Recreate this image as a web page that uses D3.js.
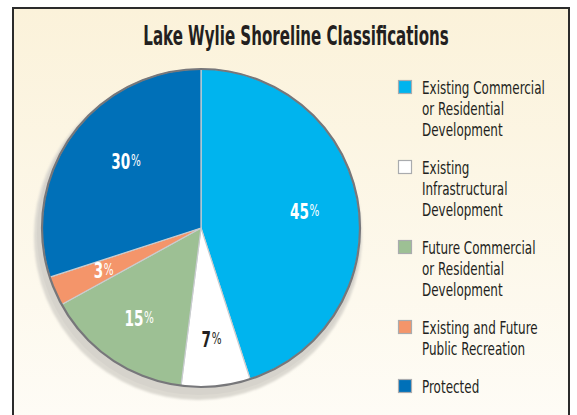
<!DOCTYPE html>
<html><head><meta charset="utf-8">
<script src="https://cdn.jsdelivr.net/npm/d3@7"></script>
<style>
html,body{margin:0;padding:0;background:#fff;}
svg{display:block;}
</style></head>
<body>
<svg id="chart" width="577" height="415"></svg>
<script>
// ---- data ----
const title = "Lake Wylie Shoreline Classifications";
const categories = [
  "Existing Commercial or Residential Development",
  "Existing Infrastructural Development",
  "Future Commercial or Residential Development",
  "Existing and Future Public Recreation",
  "Protected"
];
const legendLines = [
  ["Existing Commercial", "or Residential", "Development"],
  ["Existing", "Infrastructural", "Development"],
  ["Future Commercial", "or Residential", "Development"],
  ["Existing and Future", "Public Recreation"],
  ["Protected"]
];
const values = [45, 7, 15, 3, 30];
const colors = ["#00b4ee", "#ffffff", "#9dc094", "#f4956a", "#0070b8"];
const labelColors = ["#ffffff", "#231f20", "#ffffff", "#ffffff", "#ffffff"];

// ---- layout / style ----
const W = 577, H = 415;
const cx = 201, cy = 228, R = 159;
const font = "'Liberation Sans Narrow','DejaVu Sans Condensed','Arial Narrow',sans-serif";
const svg = d3.select("#chart");

const defs = svg.append("defs");
const bg = defs.append("linearGradient").attr("id","bg").attr("x1",0).attr("y1",0).attr("x2",0).attr("y2",1);
bg.append("stop").attr("offset","0%").attr("stop-color","#fbf2da");
bg.append("stop").attr("offset","100%").attr("stop-color","#fefcf6");
defs.append("filter").attr("id","blur").append("feGaussianBlur").attr("stdDeviation",1.2);

svg.append("rect").attr("x",0).attr("y",0).attr("width",W).attr("height",H).attr("fill","#fff");
svg.append("rect").attr("x",13).attr("y",8).attr("width",556).attr("height",H).attr("fill","url(#bg)")
  .attr("stroke","#2b2b2b").attr("stroke-width",2);

// title
svg.append("text").attr("transform",`translate(296,45) scale(0.645,1)`)
  .attr("text-anchor","middle").attr("font-family",font).attr("font-weight","bold")
  .attr("font-size",26).attr("fill","#231f20").text(title);

// pie
const pie = d3.pie().value(d => d).sort(null);
const arcs = pie(values);
const arc = d3.arc().innerRadius(0).outerRadius(R);

const g = svg.append("g").attr("transform",`translate(${cx},${cy})`);
// shadow
g.append("circle").attr("cx",-3).attr("cy",8).attr("r",R+5).attr("fill","#dcd9d1").attr("filter","url(#blur)");
g.append("circle").attr("cx",-2).attr("cy",5).attr("r",R+3).attr("fill","#d6d3cc");

g.selectAll("path.slice").data(arcs).join("path").attr("class","slice")
  .attr("d",arc).attr("fill",(d,i)=>colors[i])
  .attr("stroke","#c9cdd0").attr("stroke-width",1.2).attr("stroke-linejoin","round");
g.append("circle").attr("r",R).attr("fill","none").attr("stroke","#77777a").attr("stroke-width",2.2);

// labels
const labelR = [105, 112, 110, 106, 100];
const labelNudge = [[0,0],[0,0],[0,0],[0,0],[6,-8]];
const lab = g.selectAll("text.lab").data(arcs).join("text").attr("class","lab")
  .attr("transform",(d,i)=>{
    const c = d3.arc().innerRadius(labelR[i]).outerRadius(labelR[i]).centroid(d);
    return `translate(${c[0]+labelNudge[i][0]},${c[1]+labelNudge[i][1]+7.5}) scale(0.72,1)`;
  })
  .attr("text-anchor","middle").attr("font-family",font).attr("font-weight","bold")
  .attr("font-size",21).attr("fill",(d,i)=>labelColors[i]);
lab.append("tspan").text(d=>d.data);
lab.append("tspan").attr("font-size",16).attr("font-weight","normal").attr("dy",-3).attr("dx",1).text("%");

// legend
const lg = svg.append("g");
let y = 87;
legendLines.forEach((lines,i)=>{
  lg.append("rect").attr("x",398.5).attr("y",y-6.5).attr("width",13).attr("height",13)
    .attr("fill",colors[i]).attr("stroke","#a9abae").attr("stroke-width",1.2);
  lines.forEach((t,j)=>{
    lg.append("text").attr("transform",`translate(422,${y+6.5+j*21}) scale(0.74,1)`)
      .attr("font-family",font).attr("font-size",18).attr("fill","#231f20").text(t);
  });
  y += lines.length*21 + 17;
});
</script>
</body></html>
